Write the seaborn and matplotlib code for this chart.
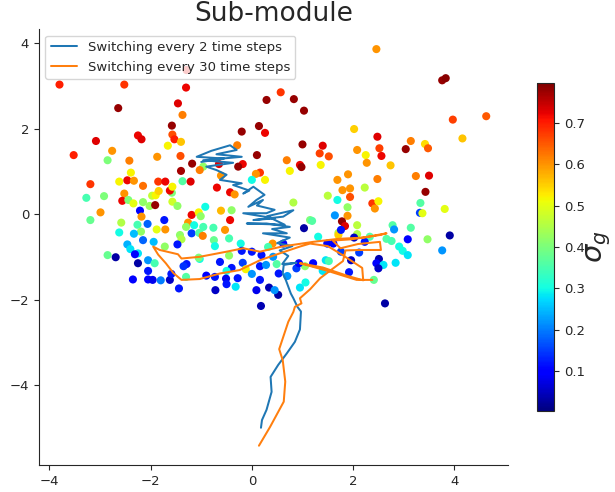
import numpy as np
import matplotlib
matplotlib.use("Agg")
import matplotlib.pyplot as plt
import seaborn as sns
from matplotlib.colors import Normalize
from matplotlib.cm import ScalarMappable

# Sampled module positions and their sigma_g values
pos_x = [
    -3.80, -2.52, -2.64, -2.25, -2.18, -3.08, -2.76, -3.52, -2.85, -2.42, -1.87, -2.39, -3.19, -2.62, -2.46,
    -2.33, -2.15, -1.85, -1.71, -3.27, -2.92, -2.52, -2.56, -2.44, -2.34, -2.15, -1.97, -1.90, -1.84, -2.02,
    -1.91, -2.99, -3.19, -2.21, -2.18, -2.58, -2.26, -2.06, -2.19, -1.88, -2.62, -2.33, -2.15, -1.94, -2.46,
    -2.40, -2.25, -2.31, -2.85, -2.69, -2.05, -2.25, -1.92, -2.05, -2.35, -2.05, -1.96, -1.80,
    -1.29, -1.30, -1.46, -1.37, -1.58, -1.57, -1.53, -1.66, -1.40, -1.41, -1.18, -1.40, -0.96, -0.65, -1.03,
    0.57, 0.29, 0.14, 0.26, -0.20, -0.29, 0.10, -0.18, -0.27, 0.16, 0.08, 0.26, 0.00, -0.61, -0.69,
    -0.43, -0.34, 0.83, 1.03, 1.00, 0.69, 0.75, 0.95, 0.98, 0.82, 1.03, 1.15, -1.58, -1.37, -1.57,
    -1.47, -1.62, -1.57, -1.21, -0.92, -1.19, -1.05, -1.01, -0.61, -0.40, -0.43, -1.73, -1.26, -1.14, -1.30,
    -0.96, -0.76, -0.53, -1.71, -1.19, -1.04, -0.97, -1.42, -1.39, -0.75, -0.45, -0.73, -1.47, -1.72, -0.22,
    -0.45, -1.03, -1.05, -1.29, -1.35, -0.63, -0.40, -0.18, -0.12, 0.00, 0.16, 0.28, -0.50, -1.62, -1.59,
    -1.30, -0.90, -0.73, -0.51, -0.50, -0.32, -0.28, -1.44, -0.72, 0.16, 0.09, 0.34, 0.52, 0.45, 0.18,
    0.41, 0.53, 0.00, 0.19, 0.42, 0.70, 0.95, 1.06, 0.88, 1.05, 0.93, 0.62, 0.49, 0.32, -0.20,
    2.46, 2.02, 2.48, 1.40, 2.52, 2.08, 2.25, 2.56, 1.34, 1.52, 2.27, 2.74, 1.36, 1.90, 1.69,
    2.48, 3.76, 3.83, 3.97, 4.63, 4.16, 3.14, 3.04, 3.42, 3.48, 3.24, 3.50, 3.43, 3.33, 3.81,
    3.32, 3.37, 3.14, 3.91, 3.47, 3.08, 3.76, 2.98, 3.08, 1.79, 1.94, 2.23, 1.50, 1.94, 1.69,
    1.89, 2.38, 2.50, 2.43, 1.64, 1.89, 1.78, 1.84, 1.19, 2.08, 1.71, 1.71, 2.08, 1.76, 1.31,
    2.02, 2.33, 2.78, 2.81, 2.66, 2.76, 2.91, 1.49, 1.61, 2.23, 1.76, 2.12, 1.96, 2.51, 2.46,
    2.60, 2.50, 2.84, 1.46, 1.52, 1.21, 1.40, 1.92, 2.41, 2.63,
]
pos_y = [
    3.03, 3.03, 2.48, 1.84, 1.75, 1.71, 1.48, 1.38, 1.26, 1.25, 1.34, 0.97, 0.70, 0.76, 0.79,
    0.78, 0.66, 0.76, 0.76, 0.38, 0.42, 0.48, 0.31, 0.33, 0.25, 0.28, 0.43, 0.44, 0.54, 0.19,
    0.21, 0.04, -0.14, 0.08, -0.06, -0.20, -0.25, -0.23, -0.41, -0.36, -0.43, -0.46, -0.61, -0.65, -0.71,
    -0.82, -0.92, -0.94, -0.96, -1.01, -1.08, -1.15, -1.15, -1.33, -1.53, -1.53, -1.54, -1.55,
    3.37, 2.96, 2.59, 2.32, 2.07, 1.86, 1.75, 1.60, 1.69, 1.36, 1.18, 1.01, 1.11, 1.17, 1.03,
    2.85, 2.67, 2.06, 1.90, 1.93, 1.61, 1.38, 1.17, 1.11, 0.97, 0.94, 0.80, 0.80, 0.90, 0.62,
    0.51, 0.46, 2.69, 2.42, 1.63, 1.26, 1.01, 1.15, 1.10, 0.27, -0.33, -0.14, 0.50, 0.77, 0.29,
    0.19, 0.55, 0.64, 0.76, 0.17, -0.02, 0.04, -0.05, 0.08, 0.09, -0.14, -0.14, -0.20, -0.26, -0.30,
    -0.30, -0.32, -0.37, -0.36, -0.45, -0.44, -0.51, -0.49, -0.59, -0.61, -0.57, -0.75, -0.71, -0.76, -0.69,
    -0.97, -1.05, -1.02, -1.17, -1.22, -1.12, -1.26, -1.14, -1.29, -1.40, -1.22, -1.19, -1.33, -1.54, -1.40,
    -1.47, -1.44, -1.47, -1.51, -1.64, -1.70, -1.50, -1.74, -1.78, -1.54, -1.78, -1.72, -1.89, -1.78, -2.15,
    -0.69, -1.39, -0.88, -0.96, -1.00, -1.45, -1.72, -1.60, -1.27, -1.22, -1.15, -0.69, -1.17, -0.77, -0.86,
    3.86, 1.99, 1.81, 1.60, 1.54, 1.50, 1.38, 1.36, 1.42, 1.35, 1.20, 1.14, 1.15, 0.93, 0.80,
    0.82, 3.13, 3.18, 2.21, 2.29, 1.77, 1.71, 1.52, 1.64, 1.54, 0.89, 0.90, 0.52, 0.26, 0.12,
    0.03, 0.02, -0.32, -0.50, -0.59, -0.59, -0.85, -0.86, -0.96, 0.56, 0.60, 0.62, 0.43, 0.40, 0.33,
    0.16, 0.25, 0.30, 0.13, -0.03, -0.04, -0.17, -0.28, -0.16, -0.26, -0.44, -0.49, -0.47, -0.37, -0.53,
    -0.55, -0.53, -0.26, -0.36, -0.58, -0.63, -0.76, -0.69, -0.69, -0.65, -0.88, -0.90, -1.08, -1.05, -1.15,
    -1.19, -1.27, -1.14, -1.08, -1.10, -1.15, -1.33, -1.36, -1.54, -2.09,
]
sigma_g = [
    0.70, 0.68, 0.78, 0.72, 0.73, 0.73, 0.60, 0.70, 0.40, 0.62, 0.60, 0.52, 0.68, 0.52, 0.72,
    0.60, 0.63, 0.68, 0.72, 0.35, 0.40, 0.60, 0.72, 0.40, 0.50, 0.42, 0.47, 0.52, 0.55, 0.43,
    0.78, 0.60, 0.38, 0.10, 0.60, 0.45, 0.35, 0.18, 0.42, 0.50, 0.30, 0.25, 0.18, 0.25, 0.24,
    0.28, 0.28, 0.10, 0.38, 0.03, 0.22, 0.03, 0.35, 0.12, 0.10, 0.10, 0.08, 0.20,
    0.72, 0.72, 0.73, 0.62, 0.78, 0.66, 0.70, 0.52, 0.56, 0.66, 0.78, 0.77, 0.42, 0.73, 0.62,
    0.68, 0.78, 0.78, 0.72, 0.78, 0.62, 0.78, 0.72, 0.78, 0.68, 0.60, 0.52, 0.30, 0.60, 0.72,
    0.72, 0.60, 0.78, 0.78, 0.78, 0.62, 0.52, 0.72, 0.78, 0.45, 0.03, 0.40, 0.40, 0.36, 0.48,
    0.42, 0.72, 0.52, 0.73, 0.30, 0.72, 0.52, 0.42, 0.57, 0.42, 0.72, 0.12, 0.60, 0.30, 0.42,
    0.35, 0.35, 0.60, 0.60, 0.15, 0.36, 0.62, 0.42, 0.45, 0.38, 0.35, 0.30, 0.12, 0.42, 0.30,
    0.42, 0.30, 0.40, 0.12, 0.14, 0.12, 0.12, 0.15, 0.52, 0.22, 0.12, 0.22, 0.30, 0.05, 0.12,
    0.36, 0.10, 0.12, 0.08, 0.12, 0.28, 0.12, 0.12, 0.05, 0.12, 0.08, 0.04, 0.03, 0.22, 0.04,
    0.60, 0.12, 0.12, 0.12, 0.22, 0.22, 0.28, 0.30, 0.15, 0.42, 0.10, 0.10, 0.36, 0.35, 0.12,
    0.60, 0.55, 0.73, 0.73, 0.67, 0.60, 0.52, 0.72, 0.67, 0.66, 0.60, 0.56, 0.52, 0.60, 0.60,
    0.62, 0.78, 0.79, 0.67, 0.65, 0.56, 0.62, 0.78, 0.54, 0.65, 0.62, 0.73, 0.78, 0.36, 0.50,
    0.15, 0.50, 0.36, 0.03, 0.42, 0.10, 0.22, 0.30, 0.28, 0.60, 0.60, 0.46, 0.46, 0.66, 0.30,
    0.42, 0.68, 0.52, 0.60, 0.22, 0.60, 0.78, 0.73, 0.36, 0.46, 0.45, 0.55, 0.45, 0.12, 0.30,
    0.05, 0.36, 0.36, 0.22, 0.36, 0.35, 0.30, 0.10, 0.10, 0.12, 0.15, 0.15, 0.05, 0.04, 0.10,
    0.28, 0.05, 0.28, 0.28, 0.35, 0.10, 0.28, 0.12, 0.38, 0.03,
]

# Trajectory with switching every 2 time steps
fast_x = [
    0.18, 0.20, 0.29, 0.39, 0.37, 0.52, 0.69, 0.85, 0.95, 0.97, 0.90, 0.82, 0.77, 0.67, 0.61,
    0.63, 0.88, 0.60, 0.72, 0.55, 0.80, 0.50, 0.75, 0.22, 0.69, 0.40, 0.75, 0.29, -0.10, 0.65,
    0.30, 0.82, 0.62, 0.03, 0.45, -0.17, 0.29, 0.45, 0.10, 0.22, -0.07, 0.09, 0.25, 0.03,
    -0.17, -0.05, -0.37, -0.20, -0.63, -0.50, -0.70, -0.90, -0.37, -0.96, -0.20, -0.70, -0.30,
    -0.43, -0.80, -1.09, -0.55, -1.00,
]
fast_y = [
    -5.00, -4.82, -4.58, -4.16, -3.81, -3.53, -3.26, -2.99, -2.70, -2.28, -2.17, -1.97, -1.86, -1.54, -1.39,
    -1.19, -1.14, -1.17, -0.98, -0.85, -0.75, -0.68, -0.55, -0.45, -0.45, -0.35, -0.30, -0.22, -0.22, -0.25,
    -0.05, 0.09, -0.06, -0.14, -0.10, 0.02, 0.02, 0.10, 0.20, 0.33, 0.17, 0.33, 0.45, 0.64,
    0.48, 0.55, 0.68, 0.72, 0.80, 0.92, 1.03, 1.11, 1.20, 1.26, 1.34, 1.40, 1.50,
    1.61, 1.48, 1.34, 1.30, 1.22,
]

# Trajectory with switching every 30 time steps
slow_x = [
    0.14, 0.36, 0.63, 0.66, 0.61, 0.54, 0.72, 0.82, 0.85, 0.98, 0.95, 1.15, 1.35, 1.55, 1.80,
    1.85, 2.15, 2.55, 2.53, 2.10, 1.75, 1.60, 1.97, 2.53, 2.66, 2.20, 1.70, 1.21, 0.59, 0.16,
    -0.17, -0.50, -1.03, -1.39, -1.46, -1.82, -1.95, -1.85, -1.70, -1.55, -1.39, -1.03, -0.63, -0.24,
    0.16, 0.55, 0.95, 1.15, 1.50, 1.78, 2.18, 2.20, 1.90, 1.40, 0.95, 1.50, 2.07, 2.38,
]
slow_y = [
    -5.42, -4.98, -4.39, -3.92, -3.42, -3.16, -2.52, -2.29, -2.17, -2.09, -1.97, -1.76, -1.50, -1.32, -1.10,
    -0.85, -0.84, -0.84, -0.65, -0.70, -0.80, -0.62, -0.59, -0.49, -0.45, -0.55, -0.58, -0.65, -0.76, -0.88,
    -0.80, -0.88, -1.00, -1.04, -0.94, -0.84, -0.76, -0.95, -1.15, -1.38, -1.54, -1.52, -1.39, -1.31,
    -1.08, -0.92, -0.76, -0.69, -0.75, -0.95, -1.26, -1.55, -1.45, -1.25, -1.15, -1.33, -1.54, -1.54,
]

sns.set_style("ticks")
plt.rcParams["font.family"] = ["DejaVu Sans"]
plt.rcParams["xtick.labelsize"] = 9.5
plt.rcParams["ytick.labelsize"] = 9.5

jet = matplotlib.colormaps["jet"]

fig = plt.figure(figsize=(6.15, 4.92), dpi=100)
ax = fig.add_axes([0.063, 0.055, 0.763, 0.886])
cax = fig.add_axes([0.873, 0.165, 0.028, 0.666])

norm = Normalize(vmin=0.003, vmax=0.797)
sns.scatterplot(x=pos_x, y=pos_y, hue=sigma_g, palette=jet, hue_norm=norm,
                s=34, linewidth=0, legend=False, ax=ax)

sns.lineplot(x=fast_x, y=fast_y, sort=False, estimator=None, color="C0",
             linewidth=1.45, label="Switching every 2 time steps", ax=ax)
sns.lineplot(x=slow_x, y=slow_y, sort=False, estimator=None, color="C1",
             linewidth=1.45, label="Switching every 30 time steps", ax=ax)

ax.set_xlim(-4.21, 5.06)
ax.set_ylim(-5.87, 4.33)
ax.set_xticks([-4, -2, 0, 2, 4])
ax.set_yticks([-4, -2, 0, 2, 4])
ax.set_title("Sub-module", fontsize=19)
ax.legend(loc="upper left", fontsize=9.5)
sns.despine(ax=ax)

cbar = fig.colorbar(ScalarMappable(norm=norm, cmap=jet), cax=cax)
cbar.set_ticks([0.1, 0.2, 0.3, 0.4, 0.5, 0.6, 0.7])
cbar.ax.tick_params(labelsize=9.5)
cbar.set_label(r"$\sigma_g$", fontsize=21, labelpad=0)

fig.savefig("out.png", dpi=100)
